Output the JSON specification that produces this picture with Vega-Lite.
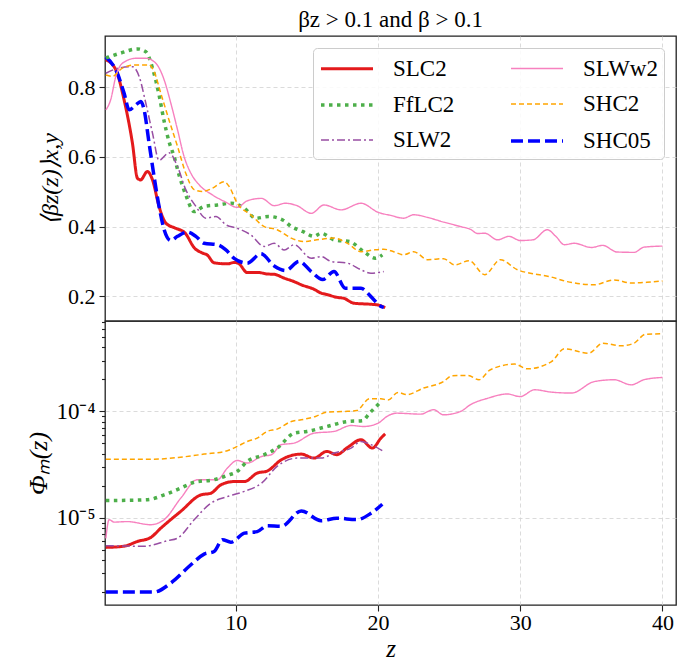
{
  "$schema": "https://vega.github.io/schema/vega-lite/v6.json",
  "background": "white",
  "padding": {"left": 25, "top": 8, "right": 5, "bottom": 0},
  "config": {
    "font": "Liberation Serif",
    "view": {"stroke": "#222222", "strokeWidth": 1.3},
    "axis": {
      "labelFont": "Liberation Serif",
      "labelFontSize": 22,
      "labelColor": "#000000",
      "titleFont": "Liberation Serif",
      "titleFontWeight": "normal",
      "titleColor": "#000000",
      "tickColor": "#222222",
      "tickSize": 6,
      "tickWidth": 1.1,
      "domain": false,
      "gridColor": "#d2d2d2",
      "gridDash": [4, 3],
      "gridWidth": 0.8,
      "labelPadding": 4
    },
    "legend": {
      "orient": "top-right", "offset": 12, "columns": 2, "symbolType": "M-1,0H3", "symbolSize": 676,
      "labelFont": "Liberation Serif", "labelFontSize": 23, "labelColor": "#000000", "labelOffset": 44,
      "rowPadding": 9, "columnPadding": 49, "padding": 6,
      "fillColor": "rgba(255,255,255,0.85)", "strokeColor": "#cccccc", "cornerRadius": 4
    },
    "line": {"interpolate": "monotone", "strokeCap": "butt"}
  },
  "datasets": {
    "beta": [
      {"s": "SLC2", "z": 0.86, "v": 0.879}, {"s": "SLC2", "z": 1.56, "v": 0.85}, {"s": "SLC2", "z": 2.14, "v": 0.764}, {"s": "SLC2", "z": 2.73, "v": 0.639}, {"s": "SLC2", "z": 3.08, "v": 0.539}, {"s": "SLC2", "z": 3.3, "v": 0.534}, {"s": "SLC2", "z": 3.78, "v": 0.558}, {"s": "SLC2", "z": 4.14, "v": 0.534}, {"s": "SLC2", "z": 4.6, "v": 0.458}, {"s": "SLC2", "z": 5.08, "v": 0.41}, {"s": "SLC2", "z": 5.78, "v": 0.395}, {"s": "SLC2", "z": 6.4, "v": 0.383}, {"s": "SLC2", "z": 7.1, "v": 0.338}, {"s": "SLC2", "z": 7.6, "v": 0.325}, {"s": "SLC2", "z": 8.0, "v": 0.318}, {"s": "SLC2", "z": 8.47, "v": 0.296}, {"s": "SLC2", "z": 9.4, "v": 0.293}, {"s": "SLC2", "z": 9.9, "v": 0.297}, {"s": "SLC2", "z": 10.2, "v": 0.294}, {"s": "SLC2", "z": 10.8, "v": 0.268}, {"s": "SLC2", "z": 11.6, "v": 0.268}, {"s": "SLC2", "z": 12.2, "v": 0.264}, {"s": "SLC2", "z": 12.7, "v": 0.263}, {"s": "SLC2", "z": 13.4, "v": 0.252}, {"s": "SLC2", "z": 14.1, "v": 0.242}, {"s": "SLC2", "z": 14.6, "v": 0.233}, {"s": "SLC2", "z": 15.5, "v": 0.22}, {"s": "SLC2", "z": 16.0, "v": 0.209}, {"s": "SLC2", "z": 16.4, "v": 0.205}, {"s": "SLC2", "z": 17.1, "v": 0.197}, {"s": "SLC2", "z": 17.6, "v": 0.194}, {"s": "SLC2", "z": 18.3, "v": 0.18}, {"s": "SLC2", "z": 19.5, "v": 0.177}, {"s": "SLC2", "z": 20.0, "v": 0.175}, {"s": "SLC2", "z": 20.5, "v": 0.167},
      {"s": "SHC05", "z": 0.86, "v": 0.887}, {"s": "SHC05", "z": 1.67, "v": 0.84}, {"s": "SHC05", "z": 2.14, "v": 0.783}, {"s": "SHC05", "z": 2.5, "v": 0.735}, {"s": "SHC05", "z": 2.97, "v": 0.749}, {"s": "SHC05", "z": 3.32, "v": 0.759}, {"s": "SHC05", "z": 3.55, "v": 0.735}, {"s": "SHC05", "z": 3.9, "v": 0.639}, {"s": "SHC05", "z": 4.25, "v": 0.544}, {"s": "SHC05", "z": 4.6, "v": 0.458}, {"s": "SHC05", "z": 4.96, "v": 0.391}, {"s": "SHC05", "z": 5.43, "v": 0.36}, {"s": "SHC05", "z": 5.9, "v": 0.372}, {"s": "SHC05", "z": 6.6, "v": 0.384}, {"s": "SHC05", "z": 7.19, "v": 0.372}, {"s": "SHC05", "z": 7.77, "v": 0.352}, {"s": "SHC05", "z": 8.7, "v": 0.348}, {"s": "SHC05", "z": 9.3, "v": 0.333}, {"s": "SHC05", "z": 9.88, "v": 0.309}, {"s": "SHC05", "z": 10.8, "v": 0.295}, {"s": "SHC05", "z": 11.76, "v": 0.322}, {"s": "SHC05", "z": 12.7, "v": 0.287}, {"s": "SHC05", "z": 13.5, "v": 0.274}, {"s": "SHC05", "z": 14.45, "v": 0.3}, {"s": "SHC05", "z": 15.3, "v": 0.271}, {"s": "SHC05", "z": 16.1, "v": 0.248}, {"s": "SHC05", "z": 16.9, "v": 0.271}, {"s": "SHC05", "z": 17.7, "v": 0.223}, {"s": "SHC05", "z": 18.8, "v": 0.223}, {"s": "SHC05", "z": 19.5, "v": 0.199}, {"s": "SHC05", "z": 20.2, "v": 0.171}, {"s": "SHC05", "z": 20.4, "v": 0.168},
      {"s": "FfLC2", "z": 0.86, "v": 0.884}, {"s": "FfLC2", "z": 1.91, "v": 0.898}, {"s": "FfLC2", "z": 3.08, "v": 0.91}, {"s": "FfLC2", "z": 3.67, "v": 0.902}, {"s": "FfLC2", "z": 4.14, "v": 0.855}, {"s": "FfLC2", "z": 4.6, "v": 0.778}, {"s": "FfLC2", "z": 4.96, "v": 0.702}, {"s": "FfLC2", "z": 5.3, "v": 0.644}, {"s": "FfLC2", "z": 5.66, "v": 0.601}, {"s": "FfLC2", "z": 6.0, "v": 0.549}, {"s": "FfLC2", "z": 6.48, "v": 0.491}, {"s": "FfLC2", "z": 7.07, "v": 0.443}, {"s": "FfLC2", "z": 7.77, "v": 0.458}, {"s": "FfLC2", "z": 8.7, "v": 0.462}, {"s": "FfLC2", "z": 9.65, "v": 0.467}, {"s": "FfLC2", "z": 10.6, "v": 0.453}, {"s": "FfLC2", "z": 11.4, "v": 0.424}, {"s": "FfLC2", "z": 12.3, "v": 0.429}, {"s": "FfLC2", "z": 13.3, "v": 0.419}, {"s": "FfLC2", "z": 13.9, "v": 0.4}, {"s": "FfLC2", "z": 14.7, "v": 0.386}, {"s": "FfLC2", "z": 15.5, "v": 0.372}, {"s": "FfLC2", "z": 16.0, "v": 0.381}, {"s": "FfLC2", "z": 16.9, "v": 0.362}, {"s": "FfLC2", "z": 18.0, "v": 0.357}, {"s": "FfLC2", "z": 19.0, "v": 0.328}, {"s": "FfLC2", "z": 19.8, "v": 0.309}, {"s": "FfLC2", "z": 20.3, "v": 0.319},
      {"s": "SLW2", "z": 0.86, "v": 0.84}, {"s": "SLW2", "z": 1.79, "v": 0.855}, {"s": "SLW2", "z": 2.73, "v": 0.859}, {"s": "SLW2", "z": 3.2, "v": 0.831}, {"s": "SLW2", "z": 3.67, "v": 0.754}, {"s": "SLW2", "z": 4.14, "v": 0.668}, {"s": "SLW2", "z": 4.6, "v": 0.59}, {"s": "SLW2", "z": 5.3, "v": 0.612}, {"s": "SLW2", "z": 5.9, "v": 0.572}, {"s": "SLW2", "z": 6.48, "v": 0.506}, {"s": "SLW2", "z": 7.19, "v": 0.458}, {"s": "SLW2", "z": 7.9, "v": 0.424}, {"s": "SLW2", "z": 8.6, "v": 0.429}, {"s": "SLW2", "z": 9.3, "v": 0.405}, {"s": "SLW2", "z": 10.1, "v": 0.395}, {"s": "SLW2", "z": 11.05, "v": 0.376}, {"s": "SLW2", "z": 12.0, "v": 0.343}, {"s": "SLW2", "z": 12.7, "v": 0.352}, {"s": "SLW2", "z": 13.4, "v": 0.333}, {"s": "SLW2", "z": 14.1, "v": 0.348}, {"s": "SLW2", "z": 15.3, "v": 0.309}, {"s": "SLW2", "z": 16.0, "v": 0.314}, {"s": "SLW2", "z": 16.7, "v": 0.3}, {"s": "SLW2", "z": 17.85, "v": 0.295}, {"s": "SLW2", "z": 18.8, "v": 0.276}, {"s": "SLW2", "z": 19.5, "v": 0.266}, {"s": "SLW2", "z": 20.4, "v": 0.271},
      {"s": "SLWw2", "z": 0.86, "v": 0.735}, {"s": "SLWw2", "z": 1.2, "v": 0.764}, {"s": "SLWw2", "z": 1.56, "v": 0.831}, {"s": "SLWw2", "z": 2.03, "v": 0.869}, {"s": "SLWw2", "z": 2.97, "v": 0.883}, {"s": "SLWw2", "z": 3.67, "v": 0.883}, {"s": "SLWw2", "z": 4.37, "v": 0.869}, {"s": "SLWw2", "z": 4.96, "v": 0.821}, {"s": "SLWw2", "z": 5.43, "v": 0.754}, {"s": "SLWw2", "z": 5.9, "v": 0.678}, {"s": "SLWw2", "z": 6.36, "v": 0.601}, {"s": "SLWw2", "z": 6.84, "v": 0.553}, {"s": "SLWw2", "z": 7.42, "v": 0.52}, {"s": "SLWw2", "z": 8.35, "v": 0.491}, {"s": "SLWw2", "z": 9.3, "v": 0.47}, {"s": "SLWw2", "z": 10.1, "v": 0.455}, {"s": "SLWw2", "z": 10.8, "v": 0.474}, {"s": "SLWw2", "z": 11.8, "v": 0.481}, {"s": "SLWw2", "z": 12.7, "v": 0.46}, {"s": "SLWw2", "z": 13.5, "v": 0.467}, {"s": "SLWw2", "z": 14.3, "v": 0.46}, {"s": "SLWw2", "z": 15.3, "v": 0.438}, {"s": "SLWw2", "z": 16.2, "v": 0.462}, {"s": "SLWw2", "z": 17.4, "v": 0.448}, {"s": "SLWw2", "z": 18.8, "v": 0.467}, {"s": "SLWw2", "z": 20.0, "v": 0.441}, {"s": "SLWw2", "z": 20.9, "v": 0.432}, {"s": "SLWw2", "z": 21.8, "v": 0.424}, {"s": "SLWw2", "z": 22.5, "v": 0.434}, {"s": "SLWw2", "z": 23.5, "v": 0.426}, {"s": "SLWw2", "z": 24.6, "v": 0.413}, {"s": "SLWw2", "z": 25.8, "v": 0.4}, {"s": "SLWw2", "z": 26.5, "v": 0.392}, {"s": "SLWw2", "z": 27.0, "v": 0.38}, {"s": "SLWw2", "z": 27.5, "v": 0.381}, {"s": "SLWw2", "z": 28.4, "v": 0.362}, {"s": "SLWw2", "z": 29.2, "v": 0.372}, {"s": "SLWw2", "z": 30.0, "v": 0.36}, {"s": "SLWw2", "z": 30.9, "v": 0.362}, {"s": "SLWw2", "z": 31.9, "v": 0.391}, {"s": "SLWw2", "z": 32.5, "v": 0.372}, {"s": "SLWw2", "z": 33.1, "v": 0.348}, {"s": "SLWw2", "z": 33.8, "v": 0.352}, {"s": "SLWw2", "z": 35.0, "v": 0.34}, {"s": "SLWw2", "z": 35.8, "v": 0.346}, {"s": "SLWw2", "z": 36.8, "v": 0.327}, {"s": "SLWw2", "z": 38.0, "v": 0.326}, {"s": "SLWw2", "z": 38.7, "v": 0.341}, {"s": "SLWw2", "z": 40.0, "v": 0.344},
      {"s": "SHC2", "z": 0.86, "v": 0.835}, {"s": "SHC2", "z": 1.32, "v": 0.831}, {"s": "SHC2", "z": 2.03, "v": 0.855}, {"s": "SHC2", "z": 2.97, "v": 0.864}, {"s": "SHC2", "z": 3.9, "v": 0.864}, {"s": "SHC2", "z": 4.25, "v": 0.845}, {"s": "SHC2", "z": 4.72, "v": 0.783}, {"s": "SHC2", "z": 5.3, "v": 0.706}, {"s": "SHC2", "z": 5.9, "v": 0.63}, {"s": "SHC2", "z": 6.48, "v": 0.553}, {"s": "SHC2", "z": 7.07, "v": 0.506}, {"s": "SHC2", "z": 7.65, "v": 0.501}, {"s": "SHC2", "z": 8.35, "v": 0.51}, {"s": "SHC2", "z": 9.18, "v": 0.529}, {"s": "SHC2", "z": 9.53, "v": 0.515}, {"s": "SHC2", "z": 10.1, "v": 0.467}, {"s": "SHC2", "z": 11.05, "v": 0.434}, {"s": "SHC2", "z": 12.0, "v": 0.4}, {"s": "SHC2", "z": 12.9, "v": 0.391}, {"s": "SHC2", "z": 13.9, "v": 0.367}, {"s": "SHC2", "z": 14.8, "v": 0.357}, {"s": "SHC2", "z": 15.7, "v": 0.362}, {"s": "SHC2", "z": 16.9, "v": 0.367}, {"s": "SHC2", "z": 17.85, "v": 0.352}, {"s": "SHC2", "z": 18.8, "v": 0.328}, {"s": "SHC2", "z": 19.7, "v": 0.333}, {"s": "SHC2", "z": 20.4, "v": 0.335}, {"s": "SHC2", "z": 21.1, "v": 0.328}, {"s": "SHC2", "z": 21.8, "v": 0.319}, {"s": "SHC2", "z": 22.5, "v": 0.328}, {"s": "SHC2", "z": 23.5, "v": 0.305}, {"s": "SHC2", "z": 24.6, "v": 0.308}, {"s": "SHC2", "z": 25.4, "v": 0.29}, {"s": "SHC2", "z": 26.4, "v": 0.302}, {"s": "SHC2", "z": 27.5, "v": 0.262}, {"s": "SHC2", "z": 28.6, "v": 0.305}, {"s": "SHC2", "z": 29.8, "v": 0.276}, {"s": "SHC2", "z": 30.7, "v": 0.266}, {"s": "SHC2", "z": 32.0, "v": 0.257}, {"s": "SHC2", "z": 33.3, "v": 0.242}, {"s": "SHC2", "z": 35.2, "v": 0.233}, {"s": "SHC2", "z": 36.6, "v": 0.247}, {"s": "SHC2", "z": 37.8, "v": 0.238}, {"s": "SHC2", "z": 38.9, "v": 0.24}, {"s": "SHC2", "z": 40.0, "v": 0.244}
    ],
    "phi": [
      {"s": "SHC2", "z": 0.86, "v": 3.56e-5}, {"s": "SHC2", "z": 4.25, "v": 3.56e-5}, {"s": "SHC2", "z": 6.1, "v": 3.71e-5}, {"s": "SHC2", "z": 7.77, "v": 3.97e-5}, {"s": "SHC2", "z": 9.4, "v": 4.27e-5}, {"s": "SHC2", "z": 10.1, "v": 4.69e-5}, {"s": "SHC2", "z": 10.8, "v": 5.22e-5}, {"s": "SHC2", "z": 11.5, "v": 5.61e-5}, {"s": "SHC2", "z": 12.2, "v": 6.49e-5}, {"s": "SHC2", "z": 12.9, "v": 6.82e-5}, {"s": "SHC2", "z": 13.9, "v": 8.05e-5}, {"s": "SHC2", "z": 14.6, "v": 8.35e-5}, {"s": "SHC2", "z": 15.6, "v": 8.98e-5}, {"s": "SHC2", "z": 16.4, "v": 9.85e-5}, {"s": "SHC2", "z": 17.6, "v": 1.0e-4}, {"s": "SHC2", "z": 18.5, "v": 1.02e-4}, {"s": "SHC2", "z": 19.4, "v": 1.32e-4}, {"s": "SHC2", "z": 20.2, "v": 1.32e-4}, {"s": "SHC2", "z": 20.7, "v": 1.28e-4}, {"s": "SHC2", "z": 21.4, "v": 1.51e-4}, {"s": "SHC2", "z": 22.0, "v": 1.44e-4}, {"s": "SHC2", "z": 23.2, "v": 1.66e-4}, {"s": "SHC2", "z": 24.6, "v": 1.91e-4}, {"s": "SHC2", "z": 25.2, "v": 2.17e-4}, {"s": "SHC2", "z": 26.3, "v": 2.18e-4}, {"s": "SHC2", "z": 27.1, "v": 1.99e-4}, {"s": "SHC2", "z": 27.9, "v": 2.47e-4}, {"s": "SHC2", "z": 29.6, "v": 2.79e-4}, {"s": "SHC2", "z": 30.5, "v": 2.52e-4}, {"s": "SHC2", "z": 32.2, "v": 2.95e-4}, {"s": "SHC2", "z": 33.1, "v": 3.89e-4}, {"s": "SHC2", "z": 34.8, "v": 3.53e-4}, {"s": "SHC2", "z": 35.8, "v": 4.39e-4}, {"s": "SHC2", "z": 37.1, "v": 4.15e-4}, {"s": "SHC2", "z": 38.0, "v": 4.39e-4}, {"s": "SHC2", "z": 38.8, "v": 5.33e-4}, {"s": "SHC2", "z": 40.0, "v": 5.38e-4},
      {"s": "SLWw2", "z": 0.86, "v": 6.4e-6}, {"s": "SLWw2", "z": 1.09, "v": 9.6e-6}, {"s": "SLWw2", "z": 1.44, "v": 9.1e-6}, {"s": "SLWw2", "z": 2.38, "v": 9.2e-6}, {"s": "SLWw2", "z": 4.0, "v": 8.6e-6}, {"s": "SLWw2", "z": 4.96, "v": 9.6e-6}, {"s": "SLWw2", "z": 6.13, "v": 1.53e-5}, {"s": "SLWw2", "z": 7.3, "v": 2.28e-5}, {"s": "SLWw2", "z": 8.7, "v": 2.28e-5}, {"s": "SLWw2", "z": 9.4, "v": 2.93e-5}, {"s": "SLWw2", "z": 10.1, "v": 3.46e-5}, {"s": "SLWw2", "z": 10.8, "v": 3.27e-5}, {"s": "SLWw2", "z": 11.8, "v": 3.77e-5}, {"s": "SLWw2", "z": 12.5, "v": 3.92e-5}, {"s": "SLWw2", "z": 13.2, "v": 4.87e-5}, {"s": "SLWw2", "z": 14.1, "v": 5.04e-5}, {"s": "SLWw2", "z": 15.5, "v": 6.25e-5}, {"s": "SLWw2", "z": 16.9, "v": 6.49e-5}, {"s": "SLWw2", "z": 18.1, "v": 7.38e-5}, {"s": "SLWw2", "z": 19.0, "v": 7.22e-5}, {"s": "SLWw2", "z": 20.0, "v": 7.76e-5}, {"s": "SLWw2", "z": 20.7, "v": 9.11e-5}, {"s": "SLWw2", "z": 21.3, "v": 9.64e-5}, {"s": "SLWw2", "z": 23.0, "v": 9.44e-5}, {"s": "SLWw2", "z": 23.9, "v": 1.04e-4}, {"s": "SLWw2", "z": 24.6, "v": 9.3e-5}, {"s": "SLWw2", "z": 25.8, "v": 1.0e-4}, {"s": "SLWw2", "z": 26.5, "v": 1.16e-4}, {"s": "SLWw2", "z": 27.7, "v": 1.33e-4}, {"s": "SLWw2", "z": 29.1, "v": 1.46e-4}, {"s": "SLWw2", "z": 30.0, "v": 1.38e-4}, {"s": "SLWw2", "z": 31.0, "v": 1.6e-4}, {"s": "SLWw2", "z": 32.2, "v": 1.52e-4}, {"s": "SLWw2", "z": 33.6, "v": 1.49e-4}, {"s": "SLWw2", "z": 35.2, "v": 1.91e-4}, {"s": "SLWw2", "z": 36.6, "v": 1.99e-4}, {"s": "SLWw2", "z": 37.8, "v": 1.78e-4}, {"s": "SLWw2", "z": 38.7, "v": 1.99e-4}, {"s": "SLWw2", "z": 40.0, "v": 2.09e-4},
      {"s": "FfLC2", "z": 0.86, "v": 1.45e-5}, {"s": "FfLC2", "z": 3.8, "v": 1.48e-5}, {"s": "FfLC2", "z": 4.96, "v": 1.64e-5}, {"s": "FfLC2", "z": 6.13, "v": 1.9e-5}, {"s": "FfLC2", "z": 7.07, "v": 2.16e-5}, {"s": "FfLC2", "z": 8.47, "v": 2.28e-5}, {"s": "FfLC2", "z": 9.4, "v": 2.5e-5}, {"s": "FfLC2", "z": 10.1, "v": 2.73e-5}, {"s": "FfLC2", "z": 10.8, "v": 3.39e-5}, {"s": "FfLC2", "z": 12.0, "v": 3.92e-5}, {"s": "FfLC2", "z": 12.9, "v": 4.52e-5}, {"s": "FfLC2", "z": 14.1, "v": 6.25e-5}, {"s": "FfLC2", "z": 15.0, "v": 6.49e-5}, {"s": "FfLC2", "z": 16.4, "v": 7.22e-5}, {"s": "FfLC2", "z": 17.85, "v": 8.05e-5}, {"s": "FfLC2", "z": 18.9, "v": 8.2e-5}, {"s": "FfLC2", "z": 19.4, "v": 9.64e-5}, {"s": "FfLC2", "z": 20.1, "v": 1.2e-4},
      {"s": "SLC2", "z": 0.86, "v": 5.26e-6}, {"s": "SLC2", "z": 2.14, "v": 5.4e-6}, {"s": "SLC2", "z": 3.08, "v": 5.98e-6}, {"s": "SLC2", "z": 4.02, "v": 6.53e-6}, {"s": "SLC2", "z": 4.72, "v": 7.97e-6}, {"s": "SLC2", "z": 6.13, "v": 1.15e-5}, {"s": "SLC2", "z": 7.54, "v": 1.64e-5}, {"s": "SLC2", "z": 8.24, "v": 1.7e-5}, {"s": "SLC2", "z": 8.95, "v": 2.04e-5}, {"s": "SLC2", "z": 9.88, "v": 2.19e-5}, {"s": "SLC2", "z": 10.6, "v": 2.19e-5}, {"s": "SLC2", "z": 11.5, "v": 2.63e-5}, {"s": "SLC2", "z": 12.2, "v": 2.75e-5}, {"s": "SLC2", "z": 13.2, "v": 3.51e-5}, {"s": "SLC2", "z": 14.6, "v": 3.97e-5}, {"s": "SLC2", "z": 15.5, "v": 3.64e-5}, {"s": "SLC2", "z": 16.4, "v": 4.21e-5}, {"s": "SLC2", "z": 17.1, "v": 3.92e-5}, {"s": "SLC2", "z": 17.85, "v": 4.58e-5}, {"s": "SLC2", "z": 18.8, "v": 5.42e-5}, {"s": "SLC2", "z": 19.6, "v": 4.52e-5}, {"s": "SLC2", "z": 20.2, "v": 5.61e-5}, {"s": "SLC2", "z": 20.5, "v": 6.16e-5},
      {"s": "SLW2", "z": 0.86, "v": 5.46e-6}, {"s": "SLW2", "z": 3.55, "v": 5.4e-6}, {"s": "SLW2", "z": 5.2, "v": 6.08e-6}, {"s": "SLW2", "z": 5.9, "v": 6.43e-6}, {"s": "SLW2", "z": 7.07, "v": 9.58e-6}, {"s": "SLW2", "z": 8.24, "v": 1.37e-5}, {"s": "SLW2", "z": 9.4, "v": 1.58e-5}, {"s": "SLW2", "z": 10.6, "v": 1.77e-5}, {"s": "SLW2", "z": 11.8, "v": 2.11e-5}, {"s": "SLW2", "z": 12.9, "v": 3.04e-5}, {"s": "SLW2", "z": 14.3, "v": 3.64e-5}, {"s": "SLW2", "z": 16.0, "v": 3.64e-5}, {"s": "SLW2", "z": 16.9, "v": 4.06e-5}, {"s": "SLW2", "z": 18.1, "v": 4.52e-5}, {"s": "SLW2", "z": 18.8, "v": 5.22e-5}, {"s": "SLW2", "z": 19.5, "v": 4.87e-5}, {"s": "SLW2", "z": 20.3, "v": 4.27e-5},
      {"s": "SHC05", "z": 0.86, "v": 2.0e-6}, {"s": "SHC05", "z": 4.25, "v": 2.0e-6}, {"s": "SHC05", "z": 5.43, "v": 2.43e-6}, {"s": "SHC05", "z": 6.84, "v": 3.61e-6}, {"s": "SHC05", "z": 7.77, "v": 4.55e-6}, {"s": "SHC05", "z": 8.47, "v": 4.82e-6}, {"s": "SHC05", "z": 9.06, "v": 6.21e-6}, {"s": "SHC05", "z": 9.65, "v": 5.89e-6}, {"s": "SHC05", "z": 10.6, "v": 7.16e-6}, {"s": "SHC05", "z": 11.5, "v": 7.4e-6}, {"s": "SHC05", "z": 12.2, "v": 8.41e-6}, {"s": "SHC05", "z": 13.2, "v": 8.3e-6}, {"s": "SHC05", "z": 14.6, "v": 1.16e-5}, {"s": "SHC05", "z": 16.0, "v": 9.37e-6}, {"s": "SHC05", "z": 17.1, "v": 9.91e-6}, {"s": "SHC05", "z": 18.5, "v": 9.6e-6}, {"s": "SHC05", "z": 19.5, "v": 1.1e-5}, {"s": "SHC05", "z": 20.3, "v": 1.34e-5}
    ]
  },
  "spacing": 0,
  "bounds": "flush",
  "resolve": {
    "scale": {"color": "independent", "strokeDash": "independent", "strokeWidth": "independent"},
    "legend": {"color": "independent", "strokeDash": "independent", "strokeWidth": "independent"}
  },
  "vconcat": [
    {
      "width": 571,
      "height": 285,
      "title": {"text": "βz > 0.1 and β > 0.1", "font": "Liberation Serif", "fontSize": 23, "fontWeight": "normal", "color": "#000000", "offset": 4, "frame": "group", "anchor": "middle"},
      "data": {"name": "beta"},
      "mark": {"type": "line"},
      "encoding": {
        "x": {"field": "z", "type": "quantitative", "scale": {"domain": [0.8, 40.95], "nice": false, "zero": false},
              "axis": {"values": [10, 20, 30, 40], "labels": false, "ticks": false, "title": null, "grid": true}},
        "y": {"field": "v", "type": "quantitative", "scale": {"domain": [0.129, 0.947], "nice": false, "zero": false},
              "axis": {"values": [0.2, 0.4, 0.6, 0.8], "format": ".1f", "title": "⟨βz(z)⟩x,y", "titleFontSize": 24, "titleFontStyle": "italic", "titlePadding": 5}},
        "color": {"field": "s", "type": "nominal",
                  "scale": {"domain": ["SLC2", "FfLC2", "SLW2", "SLWw2", "SHC2", "SHC05"], "range": ["#e41a1c", "#4daf4a", "#984ea3", "#f781bf", "#ffa500", "#0000ff"]},
                  "legend": {"title": null}},
        "strokeDash": {"field": "s", "type": "nominal",
                       "scale": {"domain": ["SLC2", "FfLC2", "SLW2", "SLWw2", "SHC2", "SHC05"], "range": [[1, 0], [3.5, 4.5], [8, 3, 2, 3], [1, 0], [5, 3], [12, 5]]},
                       "legend": {"title": null}},
        "strokeWidth": {"field": "s", "type": "nominal",
                        "scale": {"type": "ordinal", "domain": ["SLC2", "FfLC2", "SLW2", "SLWw2", "SHC2", "SHC05"], "range": [3, 3.5, 1.5, 1.4, 1.5, 3.5]},
                        "legend": {"title": null}}
      }
    },
    {
      "width": 571,
      "height": 284,
      "data": {"name": "phi"},
      "mark": {"type": "line"},
      "encoding": {
        "x": {"field": "z", "type": "quantitative", "scale": {"domain": [0.8, 40.95], "nice": false, "zero": false},
              "axis": {"values": [10, 20, 30, 40], "format": "d", "labelPadding": 1, "title": "z", "titleFontSize": 25, "titleFontStyle": "italic", "titlePadding": 3, "grid": true}},
        "y": {"field": "v", "type": "quantitative", "scale": {"type": "log", "domain": [1.51e-6, 7.1e-4], "nice": false},
              "axis": {"values": [2e-6, 3e-6, 4e-6, 5e-6, 6e-6, 7e-6, 8e-6, 9e-6, 1e-5, 2e-5, 3e-5, 4e-5, 5e-5, 6e-5, 7e-5, 8e-5, 9e-5, 1e-4, 2e-4, 3e-4, 4e-4, 5e-4, 6e-4, 7e-4],
                       "labelExpr": "datum.value == 0.00001 ? '10⁻⁵' : (datum.value == 0.0001 ? '10⁻⁴' : '')",
                       "tickSize": {"condition": {"test": "datum.value == 0.00001 || datum.value == 0.0001", "value": 6}, "value": 3.5},
                       "gridOpacity": {"condition": {"test": "datum.value == 0.00001 || datum.value == 0.0001", "value": 1}, "value": 0},
                       "labelOverlap": false, "labelFontSize": 23,
                       "title": "Φₘ(z)", "titleFontSize": 26, "titleFontStyle": "italic", "titlePadding": 4}},
        "color": {"field": "s", "type": "nominal",
                  "scale": {"domain": ["SLC2", "FfLC2", "SLW2", "SLWw2", "SHC2", "SHC05"], "range": ["#e41a1c", "#4daf4a", "#984ea3", "#f781bf", "#ffa500", "#0000ff"]}, "legend": null},
        "strokeDash": {"field": "s", "type": "nominal",
                       "scale": {"domain": ["SLC2", "FfLC2", "SLW2", "SLWw2", "SHC2", "SHC05"], "range": [[1, 0], [3.5, 4.5], [8, 3, 2, 3], [1, 0], [5, 3], [12, 5]]}, "legend": null},
        "strokeWidth": {"field": "s", "type": "nominal",
                        "scale": {"type": "ordinal", "domain": ["SLC2", "FfLC2", "SLW2", "SLWw2", "SHC2", "SHC05"], "range": [3, 3.5, 1.5, 1.4, 1.5, 3.5]}, "legend": null}
      }
    }
  ]
}
